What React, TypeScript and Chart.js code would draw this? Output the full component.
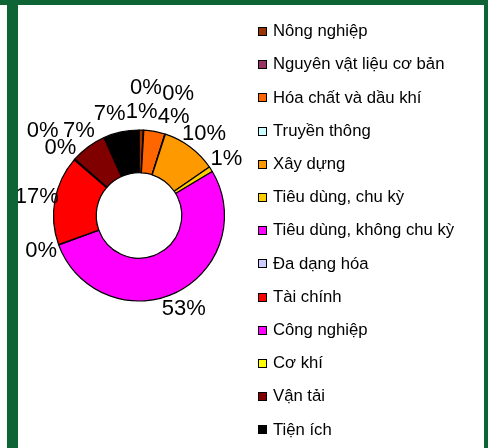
import React, { useEffect, useRef } from "react";
import { Chart, registerables } from "chart.js";

Chart.register(...registerables);

const categories = [
  "Nông nghiệp",
  "Nguyên vật liệu cơ bản",
  "Hóa chất và dầu khí",
  "Truyền thông",
  "Xây dựng",
  "Tiêu dùng, chu kỳ",
  "Tiêu dùng, không chu kỳ",
  "Đa dạng hóa",
  "Tài chính",
  "Công nghiệp",
  "Cơ khí",
  "Vận tải",
  "Tiện ích",
];
const shares = [0.8, 0.1, 4.0, 0.1, 10.4, 1.0, 53.0, 0.1, 16.8, 0.1, 0.1, 6.8, 6.7];
const colors = [
  "#993300",
  "#993366",
  "#FF6600",
  "#CCFFFF",
  "#FF9900",
  "#FFCC00",
  "#FF00FF",
  "#CCCCFF",
  "#FF0000",
  "#FF00FF",
  "#FFFF00",
  "#800000",
  "#000000",
];

const GREEN = "#0e6434";
const FONT = '"Liberation Sans", Arial, sans-serif';

const LABEL_R = 104;
const LABEL_FONT = 22;

const pctLabels = {
  id: "pctLabels",
  afterDatasetsDraw(chart: any) {
    const meta = chart.getDatasetMeta(0);
    const ds = chart.data.datasets[0].data as number[];
    const total = ds.reduce((a, b) => a + b, 0);
    const ctx = chart.ctx as CanvasRenderingContext2D;
    ctx.save();
    ctx.font = `${LABEL_FONT}px ${FONT}`;
    ctx.fillStyle = "#000";
    ctx.textAlign = "center";
    ctx.textBaseline = "middle";
    const H = 16;
    const placed: any[] = [];
    const overlaps = (b: any) =>
      placed.some((p) => b.x1 < p.x2 && b.x2 > p.x1 && b.y1 < p.y2 && b.y2 > p.y1);
    meta.data.forEach((arc: any, i: number) => {
      const { x, y, startAngle, endAngle } = arc.getProps(["x", "y", "startAngle", "endAngle"], true);
      const pct = Math.round((ds[i] / total) * 100);
      const text = pct + "%";
      const w = ctx.measureText(text).width;
      const mid = (startAngle + endAngle) / 2;
      const box = (a: number, r: number) => {
        const cx = x + Math.cos(a) * r;
        const cy = y + Math.sin(a) * r;
        return { cx, cy, x1: cx - w / 2, x2: cx + w / 2, y1: cy - H / 2, y2: cy + H / 2 };
      };
      let b = box(mid, LABEL_R);
      if (overlaps(b)) {
        if (pct === 0) {
          let r = LABEL_R;
          while (overlaps(b) && r < LABEL_R + 100) {
            r += 24;
            b = box(mid, r);
          }
        } else {
          const step = Math.PI / 180;
          let best: any = null;
          let bestCost = Infinity;
          for (let dr = 0; dr <= 40; dr += 2) {
            for (let k = 0; k <= 40; k++) {
              for (const s of [1, -1]) {
                const cost = k + dr / 2;
                if (cost >= bestCost) continue;
                const c = box(mid + s * k * step, LABEL_R + dr);
                if (!overlaps(c)) {
                  best = c;
                  bestCost = cost;
                }
              }
            }
          }
          if (best) b = best;
        }
      }
      placed.push(b);
      ctx.fillText(text, b.cx, b.cy);
    });
    ctx.restore();
  },
};

const sideLegend = {
  id: "sideLegend",
  afterDraw(chart: any) {
    const ctx = chart.ctx as CanvasRenderingContext2D;
    const labels = chart.data.labels as string[];
    const bg = chart.data.datasets[0].backgroundColor as string[];
    const boxX = 240;
    const textX = 255;
    const firstY = 26.5;
    const pitch = 33.2;
    const size = 9;
    ctx.save();
    ctx.font = `16.7px ${FONT}`;
    ctx.textAlign = "left";
    ctx.textBaseline = "middle";
    labels.forEach((lab, i) => {
      const cy = firstY + i * pitch;
      const top = Math.round(cy - size / 2);
      ctx.fillStyle = bg[i];
      ctx.fillRect(boxX, top, size, size);
      ctx.strokeStyle = "#000";
      ctx.lineWidth = 1;
      ctx.strokeRect(boxX + 0.5, top + 0.5, size - 1, size - 1);
      ctx.fillStyle = "#000";
      ctx.fillText(lab, textX, cy);
    });
    ctx.restore();
  },
};

export default function App() {
  const ref = useRef<HTMLCanvasElement>(null);
  useEffect(() => {
    const chart = new Chart(ref.current!, {
      type: "doughnut",
      data: {
        labels: categories,
        datasets: [
          {
            data: shares,
            backgroundColor: colors,
            borderColor: "#000",
            borderWidth: 1.2,
            radius: 85.5,
            cutout: "50%",
          } as any,
        ],
      },
      options: {
        responsive: false,
        devicePixelRatio: 1,
        animation: false,
        layout: { padding: { left: 0, right: 224, top: 0, bottom: 22 } },
        plugins: {
          legend: { display: false },
          tooltip: { enabled: false },
        },
      },
      plugins: [pctLabels, sideLegend],
    });
    return () => chart.destroy();
  }, []);
  return (
    <div
      style={{
        position: "fixed",
        left: 0,
        top: 0,
        width: 488,
        height: 448,
        background: "#fff",
        overflow: "hidden",
      }}
    >
      <div style={{ position: "absolute", left: 0, top: 0, width: 488, height: 5, background: GREEN }} />
      <div style={{ position: "absolute", left: 7, top: 0, width: 11, height: 448, background: GREEN }} />
      <div style={{ position: "absolute", left: 484, top: 0, width: 4, height: 448, background: GREEN }} />
      <canvas
        ref={ref}
        width={466}
        height={443}
        style={{ position: "absolute", left: 18, top: 5, width: 466, height: 443 }}
      />
    </div>
  );
}
